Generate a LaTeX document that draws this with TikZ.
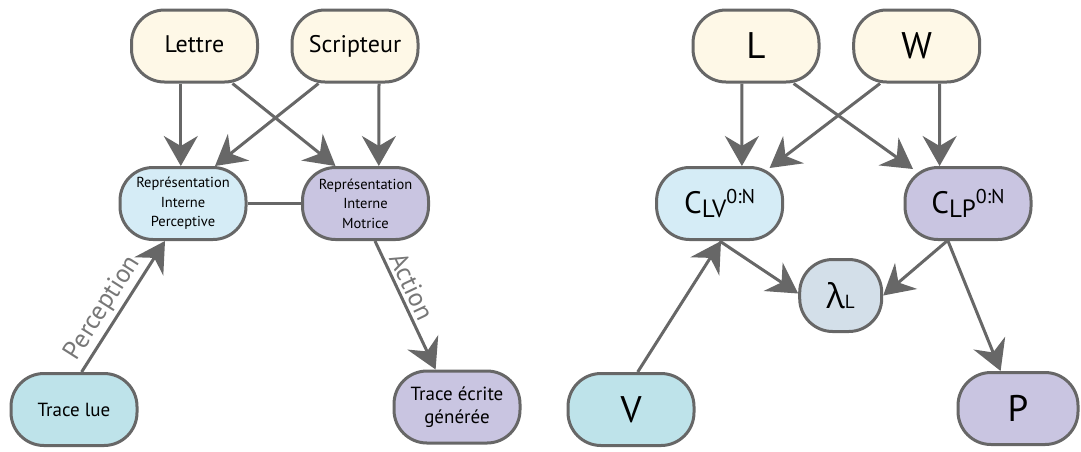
\documentclass[tikz,border=0pt]{standalone}
\usepackage{fontspec}
\setmainfont{PT Sans}
\newfontfamily\grk{Open Sans}
\usetikzlibrary{arrows.meta}
\definecolor{bgray}{HTML}{676767}
\definecolor{cream}{HTML}{FEF8E7}
\definecolor{lblue}{HTML}{D5ECF6}
\definecolor{teal}{HTML}{BEE3EA}
\definecolor{lav}{HTML}{C9C5E1}
\definecolor{lamc}{HTML}{D3DFE9}
\definecolor{lblc}{HTML}{777777}
\newcommand{\fsz}[1]{\fontsize{#1}{#1}\selectfont}
\tikzset{
  box/.style={draw=bgray, line width=3pt, rounded corners=33pt, minimum width=126pt,
    minimum height=72pt, inner sep=0pt, align=center, text=black},
  arr/.style={draw=bgray, line width=3pt, -{Stealth[length=30pt,width=34pt,inset=10pt]}},
  plain/.style={draw=bgray, line width=3pt},
  lbl/.style={text=lblc, font=\fsz{26}, inner sep=3pt}
}
\begin{document}
\begin{tikzpicture}[x=1pt,y=-1pt]
\useasboundingbox (0,0) rectangle (1081,451);
% left diagram
\node[box, fill=cream, font=\fsz{24}] (lettre) at (194.5,46) {\raisebox{3pt}{Lettre}};
\node[box, fill=cream, font=\fsz{24}] (scripteur) at (355,46) {\raisebox{3pt}{Scripteur}};
\node[box, fill=lblue, font=\fontsize{14.5}{19.5}\selectfont] (perc) at (183,203.5) {Représentation\\Interne\\Perceptive};
\node[box, fill=lav, font=\fontsize{14.5}{19.5}\selectfont] (motrice) at (365.5,203.5) {Représentation\\Interne\\Motrice};
\node[box, fill=teal, font=\fsz{19}] (tracelue) at (74,409.5) {Trace lue};
\node[box, fill=lav, font=\fontsize{19}{23}\selectfont] (traceecrite) at (457,407) {Trace écrite\\générée};
\draw[arr] ([xshift=-13.7pt]lettre.south) -- ([xshift=-2.2pt]perc.north);
\draw[arr] ([xshift=38pt]lettre.south) -- ([xshift=-30pt]motrice.north);
\draw[arr] ([xshift=-36.5pt]scripteur.south) -- ([xshift=32pt]perc.north);
\draw[arr] ([xshift=24pt]scripteur.south) -- ([xshift=13.3pt]motrice.north);
\draw[plain] (perc.east) -- (motrice.west);
\draw[arr] ([xshift=7.6pt]tracelue.north) -- node[lbl, sloped, above, pos=0.42] {Perception} ([xshift=-18pt]perc.south);
\draw[arr] ([xshift=9.5pt]motrice.south) -- node[lbl, sloped, above, pos=0.4] {Action} ([xshift=-21.4pt]traceecrite.north);
% right diagram
\node[box, fill=cream, font=\fsz{37}] (L) at (756,46) {\raisebox{1.5pt}{L}};
\node[box, fill=cream, font=\fsz{37}] (W) at (916.7,46) {\raisebox{1.5pt}{W}};
\node[box, fill=lblue, font=\fsz{31}] (clv) at (719.6,203.5) {C\raisebox{-3.5pt}{\fsz{25}LV}\raisebox{10pt}{\fsz{20}0:N}};
\node[box, fill=lav, font=\fsz{31}] (clp) at (968,203.5) {C\raisebox{-3.5pt}{\fsz{25}LP}\raisebox{10pt}{\fsz{20}0:N}};
\node[box, fill=lamc, minimum width=82pt, font=\fsz{34}] (lam) at (840.7,295.5) {{\grk λ}{\fsz{19}L}};
\node[box, fill=teal, font=\fsz{37}] (V) at (631,409.5) {V};
\node[box, fill=lav, minimum width=120pt, font=\fsz{37}] (P) at (1018,408.5) {P};
\draw[arr] ([xshift=-14.1pt]L.south) -- ([xshift=22.3pt]clv.north);
\draw[arr] ([xshift=37.6pt]L.south) -- ([xshift=-55pt,yshift=-3pt]clp.north);
\draw[arr] ([xshift=-36.7pt]W.south) -- ([xshift=50pt,yshift=-2pt]clv.north);
\draw[arr] ([xshift=22.9pt]W.south) -- ([xshift=-28.4pt]clp.north);
\draw[arr] (clv.south) -- ([yshift=2pt]lam.west);
\draw[arr] ([xshift=-21pt]clp.south) -- (lam.east);
\draw[arr] ([xshift=-20pt]clp.south) -- ([xshift=-17.4pt]P.north);
\draw[arr] ([xshift=6.7pt]V.north) -- ([xshift=1.4pt]clv.south);
\end{tikzpicture}
\end{document}
